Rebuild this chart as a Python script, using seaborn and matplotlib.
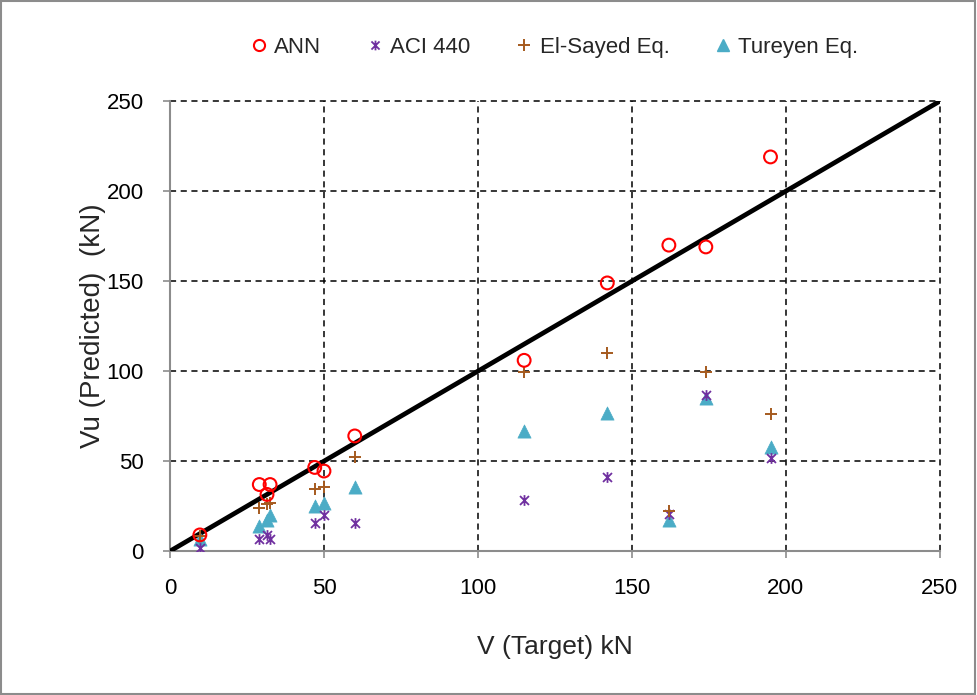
import numpy as np
import pandas as pd
import matplotlib
matplotlib.use("Agg")
import matplotlib.pyplot as plt
from matplotlib.path import Path
from matplotlib.patches import Rectangle
from matplotlib.lines import Line2D
import seaborn as sns

# Target shear capacity (kN) for each specimen
target = [9.7, 29.0, 32.5, 31.5, 47.0, 50.0, 60.0, 115.0, 142.0, 162.0, 174.0, 195.0]

# Predicted shear capacity (kN) by each method
ann = [9.0, 37.0, 37.0, 31.5, 46.5, 44.5, 64.0, 106.0, 149.0, 170.0, 169.0, 219.0]
aci440 = [2.0, 6.5, 7.0, 9.0, 15.5, 20.0, 15.5, 28.5, 41.0, 20.5, 87.0, 52.0]
elsayed = [8.5, 24.0, 27.0, 26.0, 34.5, 35.5, 52.5, 99.5, 110.0, 22.5, 99.5, 76.0]
tureyen = [7.0, 14.0, 20.0, 17.5, 25.0, 26.5, 35.5, 66.5, 77.0, 17.5, 85.0, 58.0]

series_names = ["ANN", "ACI 440", "El-Sayed Eq.", "Tureyen Eq."]
ticks = [0, 50, 100, 150, 200, 250]

sns.set_theme(style="white")
plt.rcParams["font.family"] = ["Liberation Sans", "DejaVu Sans"]

fig = plt.figure(figsize=(9.77, 6.95), dpi=100)
ax = fig.add_axes([0.174, 0.207, 0.788, 0.6475])

# asterisk marker: an x crossed by a vertical stroke
star_path = Path(
    [(-1, -1), (1, 1), (-1, 1), (1, -1), (0, -1.2), (0, 1.2)],
    [Path.MOVETO, Path.LINETO, Path.MOVETO, Path.LINETO, Path.MOVETO, Path.LINETO],
)

red = "#FF0000"
purple = "#7030A0"
brown = "#A55A1E"
teal = "#4BACC6"

# 1:1 reference line
ax.plot([0, 250], [0, 250], color="black", lw=3.4, zorder=2, solid_capstyle="butt")

sns.scatterplot(x=target, y=ann, ax=ax, marker="o", s=85, facecolor="none",
                edgecolor=red, linewidth=1.5, zorder=5)
sns.scatterplot(x=target, y=aci440, ax=ax, marker=star_path, s=60,
                color=purple, edgecolor=purple, linewidth=1.3, zorder=4)
sns.scatterplot(x=target, y=elsayed, ax=ax, marker="+", s=75,
                color=brown, linewidth=1.4, zorder=4)
sns.scatterplot(x=target, y=tureyen, ax=ax, marker="^", s=90,
                color=teal, edgecolor=teal, linewidth=0.5, zorder=3)

ax.set_xlim(0, 250)
ax.set_ylim(0, 250)
ax.set_xticks(ticks)
ax.set_yticks(ticks)
ax.set_xticklabels([str(t) for t in ticks], fontsize=16)
ax.set_yticklabels([str(t) for t in ticks], fontsize=16)
ax.grid(True, color="black", linestyle=(0, (4, 3)), linewidth=1.1)
for gl in ax.get_xgridlines() + ax.get_ygridlines():
    gl.set_clip_on(False)
ax.set_axisbelow(True)
for side in ["top", "right"]:
    ax.spines[side].set_visible(False)
for side in ["left", "bottom"]:
    ax.spines[side].set_color("#8C8C8C")
    ax.spines[side].set_linewidth(1.5)
    ax.spines[side].set_zorder(1.5)
ax.tick_params(axis="both", which="both", direction="out", length=5, width=1.2,
               color="#8C8C8C", left=True, bottom=True, labelcolor="black")
ax.tick_params(axis="y", pad=14)
ax.tick_params(axis="x", pad=14)

ax.set_xlabel("V (Target) kN", fontsize=19, labelpad=26)
ax.set_ylabel("Vu (Predicted)  (kN)", fontsize=20, labelpad=0)

handles = [
    Line2D([], [], linestyle="none", marker="o", markersize=8, markerfacecolor="none",
           markeredgecolor=red, markeredgewidth=1.5),
    Line2D([], [], linestyle="none", marker=star_path, markersize=7, color=purple,
           markeredgewidth=1.3),
    Line2D([], [], linestyle="none", marker="+", markersize=8, color=brown,
           markeredgewidth=1.4),
    Line2D([], [], linestyle="none", marker="^", markersize=9, color=teal),
]
fig.legend(handles, series_names, loc="center", bbox_to_anchor=(0.565, 0.932), ncol=4,
           frameon=False, fontsize=16, handletextpad=0.1, columnspacing=1.8,
           handlelength=1.2)

# chart area border
fig.patches.append(Rectangle((0.001, 0.002), 0.997, 0.996, transform=fig.transFigure,
                             fill=False, edgecolor="#8C8C8C", linewidth=1.5))

fig.savefig("out.png", dpi=100)
